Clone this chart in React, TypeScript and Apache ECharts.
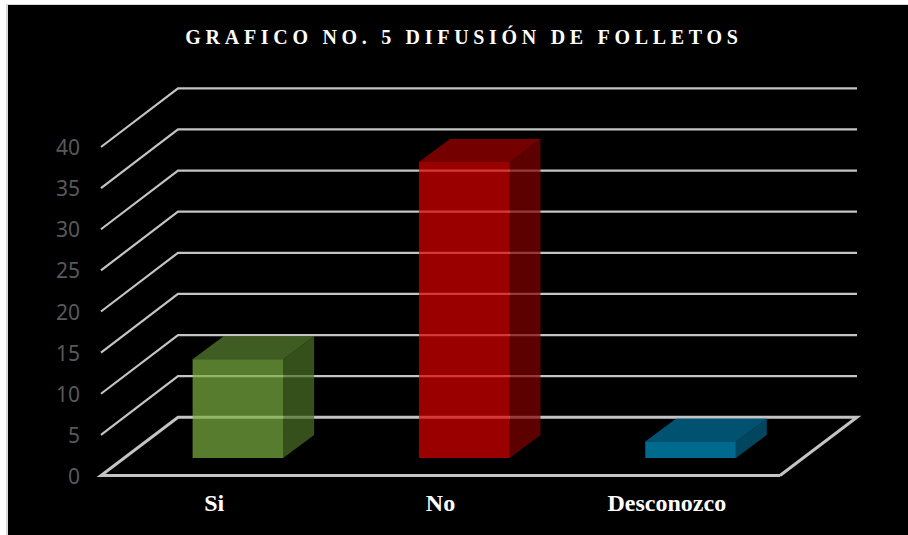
import React, { useEffect, useRef } from "react";
import * as echarts from "echarts";

const titleText = "GRAFICO NO. 5 DIFUSIÓN DE FOLLETOS";
const categories = ["Si", "No", "Desconozco"];
const respuestas = [12, 36, 2];
const tickValues = [0, 5, 10, 15, 20, 25, 30, 35, 40];

const faceColors = ["rgb(126,176,66)", "rgb(219,0,0)", "rgb(0,151,203)"];
const topColors = ["rgb(90,131,49)", "rgb(167,0,0)", "rgb(0,117,160)"];
const sideColors = ["rgb(77,114,40)", "rgb(131,0,0)", "rgb(0,100,136)"];

const WALL_DX = 77;
const WALL_DY = -58.7;
const BAR_SHIFT_X = 23.7;
const BAR_SHIFT_Y = -18;
const BAR_DEPTH_X = 31;
const BAR_DEPTH_Y = -23;
const LINE_COLOR = "#c4c4c4";

export default function App() {
  const ref = useRef<HTMLDivElement>(null);

  useEffect(() => {
    const chart = echarts.init(ref.current!, null, { renderer: "svg" });
    chart.setOption({
      animation: false,
      backgroundColor: "transparent",
      title: {
        text: titleText,
        left: 459,
        top: 22,
        textAlign: "center",
        textStyle: {
          color: "#ffffff",
          fontFamily: "Liberation Serif",
          fontWeight: "bold",
          fontSize: 20,
        },
      },
      grid: { left: 101, right: 128, top: 147, bottom: 59, containLabel: false },
      xAxis: {
        type: "category",
        data: categories,
        axisLine: { show: false },
        axisTick: { show: false },
        axisLabel: {
          color: "#ffffff",
          fontFamily: "Liberation Serif",
          fontWeight: "bold",
          fontSize: 24,
          margin: 15,
        },
      },
      yAxis: {
        type: "value",
        min: 0,
        max: 40,
        interval: 5,
        splitLine: { show: false },
        axisLine: { show: false },
        axisTick: { show: false },
        axisLabel: {
          color: "#595959",
          fontFamily: "Noto Sans",
          fontSize: 21,
          margin: 21,
          padding: [3, 0, 0, 0],
        },
      },
      series: [
        {
          type: "custom",
          name: "Rejilla",
          coordinateSystem: "cartesian2d",
          clip: false,
          silent: true,
          z: 1,
          encode: { x: 0, y: 1 },
          data: tickValues.map((v) => [0, v]),
          renderItem: (params: any, api: any) => {
            const v = api.value(1);
            const y = api.coord([0, v])[1];
            const cs = params.coordSys;
            const x0 = cs.x;
            const x1 = cs.x + cs.width;
            const floor = v === 0;
            const points = floor
              ? [
                  [x1, y - 0.5],
                  [x0, y - 0.5],
                  [x0 + WALL_DX, y + WALL_DY],
                  [x1 + WALL_DX, y + WALL_DY],
                  [x1, y - 0.5],
                ]
              : [
                  [x0, y],
                  [x0 + WALL_DX, y + WALL_DY],
                  [x1 + WALL_DX, y + WALL_DY],
                ];
            return {
              type: "polyline",
              shape: { points },
              style: {
                fill: "none",
                stroke: LINE_COLOR,
                lineWidth: floor ? 3 : 2.2,
              },
            };
          },
        },
        {
          type: "custom",
          name: "Respuestas",
          coordinateSystem: "cartesian2d",
          clip: false,
          z: 2,
          encode: { x: 0, y: 1 },
          data: respuestas.map((v, i) => [i, v]),
          renderItem: (params: any, api: any) => {
            const i = api.value(0);
            const top = api.coord([i, api.value(1)]);
            const base = api.coord([i, 0]);
            const w = api.size([1, 0])[0] * 0.4;
            const l = top[0] - w / 2 + BAR_SHIFT_X;
            const r = l + w;
            const t = top[1] + BAR_SHIFT_Y;
            const b = base[1] + BAR_SHIFT_Y;
            const dx = BAR_DEPTH_X;
            const dy = BAR_DEPTH_Y;
            const poly = (points: number[][], fill: string) => ({
              type: "polygon",
              shape: { points },
              style: { fill, opacity: 0.7 },
            });
            return {
              type: "group",
              children: [
                poly([[l, t], [r, t], [r + dx, t + dy], [l + dx, t + dy]], topColors[i]),
                poly([[r, t], [r + dx, t + dy], [r + dx, b + dy], [r, b]], sideColors[i]),
                poly([[l, t], [r, t], [r, b], [l, b]], faceColors[i]),
              ],
            };
          },
        },
      ],
    });
    ref.current!.querySelectorAll("text").forEach((el) => {
      if (el.textContent === titleText) el.setAttribute("letter-spacing", "4.7");
    });
    return () => chart.dispose();
  }, []);

  return (
    <div style={{ position: "fixed", left: 0, top: 0, width: 908, height: 535, background: "#ffffff", overflow: "hidden" }}>
      <div
        style={{
          position: "absolute",
          left: 6,
          top: 4,
          width: 900,
          height: 530,
          background: "#000000",
          borderLeft: "2px solid #d9d9d9",
          borderTop: "1px solid #d9d9d9",
        }}
      />
      <div ref={ref} style={{ position: "absolute", left: 0, top: 0, width: 908, height: 535 }} />
    </div>
  );
}
